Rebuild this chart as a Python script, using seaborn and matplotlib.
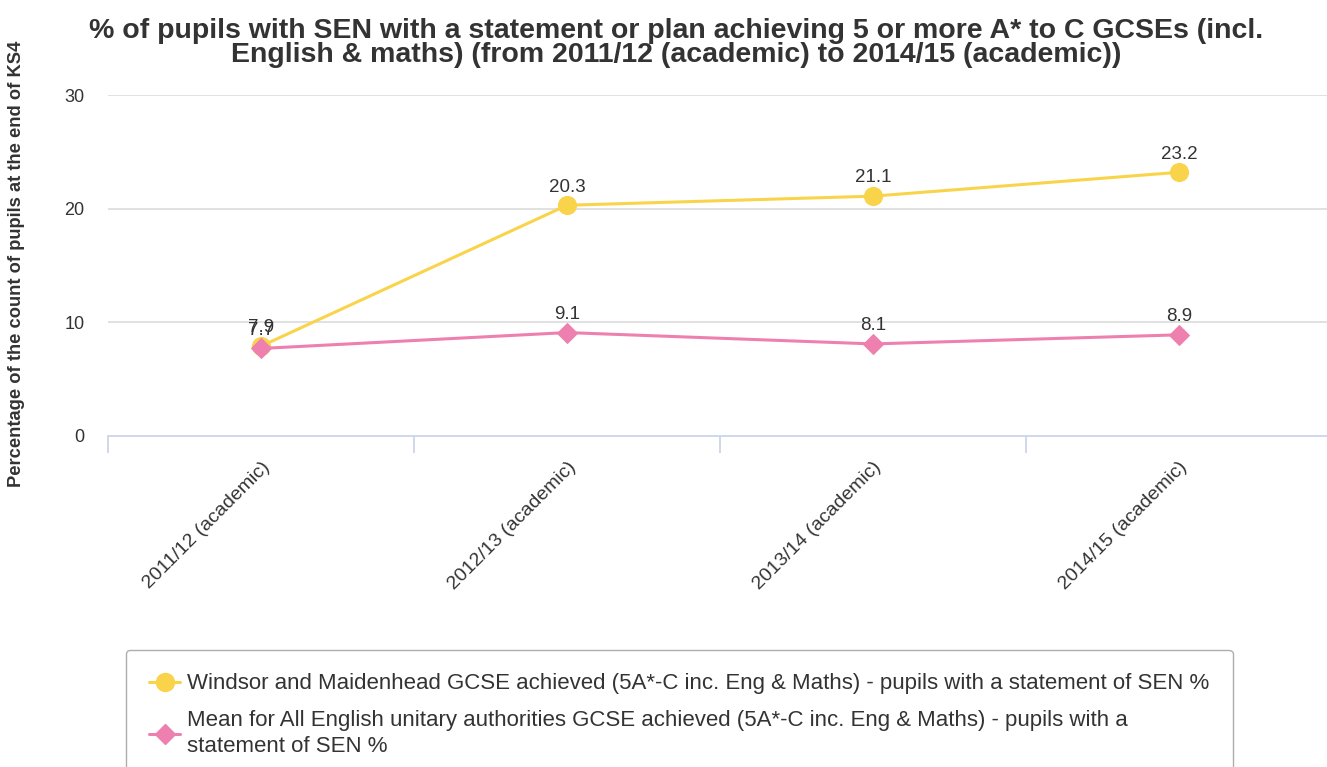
import matplotlib
matplotlib.use("Agg")
import matplotlib.pyplot as plt
import seaborn as sns
import pandas as pd
from matplotlib.lines import Line2D

years = ["2011/12 (academic)", "2012/13 (academic)", "2013/14 (academic)", "2014/15 (academic)"]
windsor = [7.9, 20.3, 21.1, 23.2]
mean_unitary = [7.7, 9.1, 8.1, 8.9]

series_names = [
    "Windsor and Maidenhead GCSE achieved (5A*-C inc. Eng & Maths) - pupils with a statement of SEN %",
    "Mean for All English unitary authorities GCSE achieved (5A*-C inc. Eng & Maths) - pupils with a\nstatement of SEN %",
]
colors = ["#F9D44A", "#EE80AF"]
markers = ["o", "D"]
msizes = [13, 10]

sns.set_theme(style="white")
plt.rcParams["font.family"] = ["Liberation Sans", "DejaVu Sans"]

df = pd.DataFrame({
    "year": years * 2,
    "x": list(range(len(years))) * 2,
    "value": windsor + mean_unitary,
    "series": [series_names[0]] * len(years) + [series_names[1]] * len(years),
})

fig = plt.figure(figsize=(13.27, 7.67), dpi=100)
ax = fig.add_axes([108 / 1327, 1 - 436 / 767, 1 - 108 / 1327, (436 - 95) / 767])

for i, name in enumerate(series_names):
    sub = df[df["series"] == name]
    sns.lineplot(data=sub, x="x", y="value", ax=ax, color=colors[i], linewidth=2.2,
                 marker=markers[i], markersize=msizes[i], markeredgecolor=colors[i],
                 legend=False, zorder=3 + i)
    for xv, yv in zip(sub["x"], sub["value"]):
        ax.annotate(f"{yv:.1f}", (xv, yv), xytext=(0, 7), textcoords="offset points",
                    ha="center", va="bottom", fontsize=13.5, color="#333333", zorder=6)

ax.set_xlim(-0.5, 3.5 - 0.016)
ax.set_ylim(0, 30)
ax.set_yticks([0, 10, 20, 30])
ax.set_yticklabels(["0", "10", "20", "30"], fontsize=13, color="#333333")
ax.tick_params(axis="y", length=0, pad=17)
for yv in [10, 20, 30]:
    ax.axhline(yv, color="#D8D8D8", linewidth=1.1, zorder=1)

for s in ["top", "right", "left"]:
    ax.spines[s].set_visible(False)
ax.spines["bottom"].set_color("#CCD6EB")
ax.spines["bottom"].set_linewidth(1.3)

# category boundary ticks on the x axis
ax.set_xticks([-0.5, 0.5, 1.5, 2.5], minor=True)
ax.tick_params(axis="x", which="minor", length=12, width=1.3, color="#CCD6EB", bottom=True)
ax.set_xticks(range(len(years)))
ax.set_xticklabels(years, rotation=45, ha="right", rotation_mode="anchor",
                   fontsize=14, color="#333333")
ax.tick_params(axis="x", which="major", length=0, pad=16)
ax.set_xlabel("")
ax.set_ylabel("")

fig.text(17 / 1327, 1 - 264 / 767, "Percentage of the count of pupils at the end of KS4",
         rotation=90, ha="center", va="center", fontsize=13.2, fontweight="bold",
         color="#333333")

fig.text(676 / 1327, 1 - 43 / 767,
         "% of pupils with SEN with a statement or plan achieving 5 or more A* to C GCSEs (incl.\n"
         "English & maths) (from 2011/12 (academic) to 2014/15 (academic))",
         ha="center", va="center", fontsize=20.5, fontweight="bold", color="#333333",
         linespacing=0.95)

handles = [Line2D([0], [0], color=colors[i], marker=markers[i], markersize=msizes[i],
                  linewidth=2.2) for i in range(2)]
leg = fig.legend(handles, series_names, loc="upper left",
                 bbox_to_anchor=(126 / 1327, 1 - 650 / 767), fontsize=16, frameon=True,
                 fancybox=True, edgecolor="#999999", handlelength=1.4, handletextpad=0.3,
                 borderpad=1.05, labelspacing=0.7, labelcolor="#333333", borderaxespad=0)
for t in leg.get_texts():
    t.set_linespacing(1.35)
leg.get_frame().set_linewidth(1.0)

fig.savefig("out.png", dpi=100, facecolor="white")
